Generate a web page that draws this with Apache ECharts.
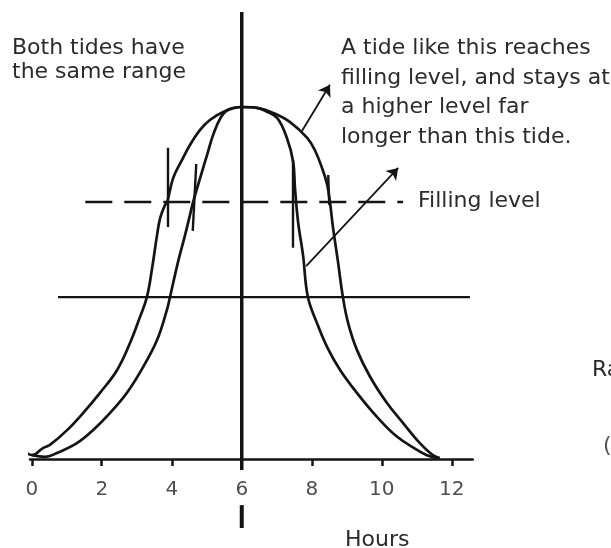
<!DOCTYPE html>
<html>
<head>
<meta charset="utf-8">
<script src="https://cdn.jsdelivr.net/npm/echarts@6/dist/echarts.min.js"></script>
<style>
html,body{margin:0;padding:0;background:#fff;}
#chart{width:611px;height:548px;}
</style>
</head>
<body>
<div id="chart"></div>
<script>
// Hour tick labels on the time axis
const hourTicks = [0, 2, 4, 6, 8, 10, 12];
// Tide height (0 = low water, 10 = high water) against hours
const wideTide = [[-0.65,0.51],[-0.33,0.31],[0.01,0.11],[0.32,0.31],[0.52,0.40],[1.01,0.82],[1.47,1.31],[1.95,1.88],[2.44,2.53],[2.81,3.30],[3.09,4.03],[3.29,4.60],[3.44,5.43],[3.58,6.36],[3.67,6.85],[3.81,7.22],[3.87,7.30],[4.04,7.98],[4.29,8.49],[4.52,8.92],[4.81,9.35],[5.09,9.63],[5.47,9.86],[6.0,10.0],[6.47,9.97],[6.90,9.83],[7.38,9.57],[7.87,9.12],[8.10,8.75],[8.30,8.25],[8.44,7.80],[8.52,7.30],[8.61,6.56],[8.75,5.60],[8.89,4.60],[9.04,3.86],[9.29,3.10],[9.67,2.33],[10.15,1.59],[10.61,1.02],[11.09,0.45],[11.46,0.11],[11.66,0.03]];
const narrowTide = [[0.01,0.11],[0.38,0.06],[0.72,0.17],[1.29,0.45],[1.75,0.82],[2.24,1.31],[2.72,1.88],[3.18,2.61],[3.58,3.38],[3.86,4.23],[3.95,4.60],[4.18,5.60],[4.38,6.36],[4.52,6.93],[4.61,7.30],[4.81,7.98],[5.01,8.64],[5.18,9.20],[5.40,9.70],[5.62,9.93],[6.0,10.0],[6.47,9.97],[6.67,9.89],[7.01,9.69],[7.29,9.12],[7.47,8.44],[7.52,7.70],[7.61,6.73],[7.75,5.80],[7.89,4.60],[8.15,3.86],[8.44,3.18],[8.81,2.53],[9.29,1.88],[9.87,1.19],[10.44,0.63],[11.01,0.26],[11.29,0.11],[11.58,0.03]];
const hookStroke = [[-0.33,0.54],[-0.28,0.20]];
// Reference levels
const fillingLevel = [[1.53,7.30],[10.61,7.30]];
const midLevel = [[0.75,4.60],[12.52,4.60]];
// Vertical line at 6 hours (two parts, broken round the label)
const sixHourUpper = [[6,12.70],[6,-0.31]];
const sixHourLower = [[6,-1.31],[6,-1.96]];
// Marks where the tides cross filling level
const crossMarks = [
  [[3.89,8.84],[3.89,6.59]],
  [[4.70,8.38],[4.60,6.48]],
  [[7.47,8.50],[7.47,6.00]],
  [[8.47,8.07],[8.50,7.22]]
];
// Arrows from the annotations to the curves
const arrows = [
  [[7.72,9.32],[8.52,10.63]],
  [[7.84,5.48],[10.47,8.27]]
];

const ink = '#141414';
const textColor = '#2b2b2b';
const font = 'DejaVu Sans';

function seg(data, width, type) {
  return {
    type: 'line', data: data, symbol: 'none', clip: false, silent: true,
    lineStyle: {color: ink, width: width, type: type || 'solid'},
    z: 3
  };
}

const chart = echarts.init(document.getElementById('chart'), null, {renderer: 'canvas'});
chart.setOption({
  animation: false,
  backgroundColor: '#ffffff',
  grid: {left: 30, right: 138.25, top: 1.4, bottom: 1, containLabel: false, outerBoundsMode: 'none'},
  xAxis: {
    type: 'value', min: -0.05, max: 12.6,
    axisLine: {show: true, onZero: true, lineStyle: {color: ink, width: 2.5}},
    axisTick: {show: true, customValues: hourTicks, length: 7, lineStyle: {color: ink, width: 2.5}},
    axisLabel: {show: false},
    splitLine: {show: false}
  },
  yAxis: {type: 'value', min: -2.5, max: 13, show: false},
  series: [
    Object.assign(seg(wideTide, 2.7), {smooth: 0.4}),
    Object.assign(seg(narrowTide, 2.7), {smooth: 0.4}),
    seg(hookStroke, 2),
    seg(fillingLevel, 2.6, [27, 12]),
    seg(midLevel, 2.2),
    seg(sixHourUpper, 3.5),
    seg(sixHourLower, 4),
    {
      type: 'lines', coordinateSystem: 'cartesian2d', silent: true,
      lineStyle: {color: ink, width: 2.4, opacity: 1},
      data: crossMarks.map(c => ({coords: c}))
    },
    {
      type: 'lines', coordinateSystem: 'cartesian2d', silent: true,
      symbol: ['none', 'arrow'], symbolSize: 11,
      lineStyle: {color: ink, width: 1.8, opacity: 1},
      itemStyle: {color: ink},
      data: arrows.map(c => ({coords: c}))
    },
    {
      type: 'scatter', silent: true, symbolSize: 0, clip: false,
      data: hourTicks.map(h => [h, -0.88]),
      label: {
        show: true, position: 'inside',
        formatter: p => String(p.value[0]),
        fontFamily: font, fontSize: 20, color: '#222'
      },
      z: 5
    }
  ],
  graphic: [
    {type: 'text', left: 12, top: 36, style: {text: 'Both tides have\nthe same range', font: '22px "' + font + '"', fill: textColor, lineHeight: 24.5}},
    {type: 'text', left: 341, top: 34, style: {text: 'A tide like this reaches\nfilling level, and stays at\na higher level far\nlonger than this tide.', font: '22px "' + font + '"', fill: textColor, lineHeight: 29.5}},
    {type: 'text', left: 418, top: 189, style: {text: 'Filling level', font: '22px "' + font + '"', fill: textColor, lineHeight: 24}},
    {type: 'text', left: 345, top: 528, style: {text: 'Hours', font: '22px "' + font + '"', fill: textColor, lineHeight: 24}},
    {type: 'text', left: 592, top: 358, style: {text: 'Range', font: '22px "' + font + '"', fill: textColor, lineHeight: 24}},
    {type: 'text', left: 603, top: 432, style: {text: '(', font: '22px "' + font + '"', fill: '#555', lineHeight: 28}}
  ]
});
</script>
</body>
</html>
